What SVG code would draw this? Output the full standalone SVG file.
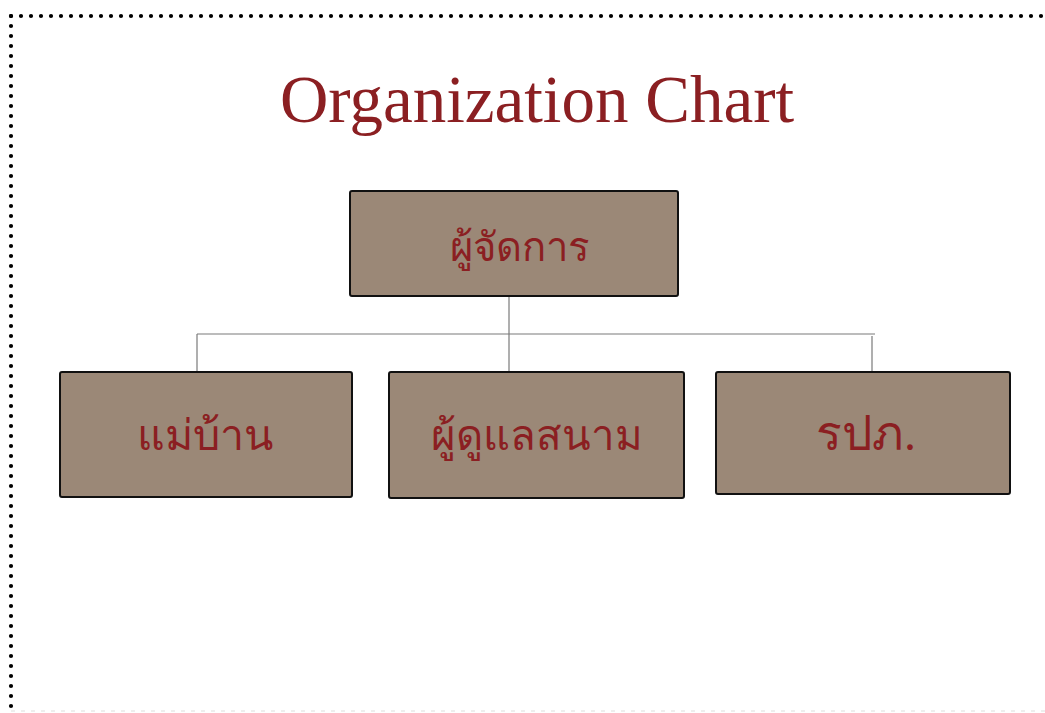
<svg xmlns="http://www.w3.org/2000/svg" width="1045" height="713" viewBox="0 0 1045 713">
<defs>
<style>
.box{fill:#9b8877;stroke:#111;stroke-width:2}
.lbl{font-family:"Liberation Serif","DejaVu Serif","Noto Sans",serif;font-size:43px;fill:#8b1f22;text-anchor:middle}
.conn{stroke:#7a7a7a;stroke-width:1.2;fill:none}
</style>
</defs>
<rect width="1045" height="713" fill="#fff"/>
<g id="border">
<line x1="11" y1="16" x2="1042" y2="16" stroke="#000" stroke-width="4.2" stroke-linecap="round" stroke-dasharray="0 10"/>
<line x1="11" y1="16" x2="11" y2="707" stroke="#000" stroke-width="4.2" stroke-linecap="round" stroke-dasharray="0 10"/>
<line x1="11" y1="711" x2="1045" y2="711" stroke="#ddd" stroke-width="1" stroke-dasharray="4 6"/>
</g>
<text id="title" x="537" y="122" font-family="Liberation Serif, serif" font-size="67" fill="#8b1f22" text-anchor="middle">Organization Chart</text>
<g id="connectors">
<line class="conn" x1="509" y1="296" x2="509" y2="372"/>
<line class="conn" x1="197" y1="334" x2="875" y2="334"/>
<line class="conn" x1="197" y1="334" x2="197" y2="372"/>
<line class="conn" x1="872" y1="336" x2="872" y2="372"/>
</g>
<g id="manager">
<rect class="box" x="350" y="191" width="328" height="105" rx="2"/>
<text class="lbl" x="519" y="261" style="font-size:40px">ผู้จัดการ</text>
</g>
<g id="housekeeper">
<rect class="box" x="60" y="372" width="292" height="125" rx="2"/>
<text class="lbl" x="205" y="450">แม่บ้าน</text>
</g>
<g id="groundskeeper">
<rect class="box" x="389" y="372" width="295" height="126" rx="2"/>
<text class="lbl" x="537" y="450" style="font-size:42px">ผู้ดูแลสนาม</text>
</g>
<g id="security">
<rect class="box" x="716" y="372" width="294" height="122" rx="2"/>
<text class="lbl" x="866" y="450" style="font-size:48px">รปภ.</text>
</g>
</svg>
